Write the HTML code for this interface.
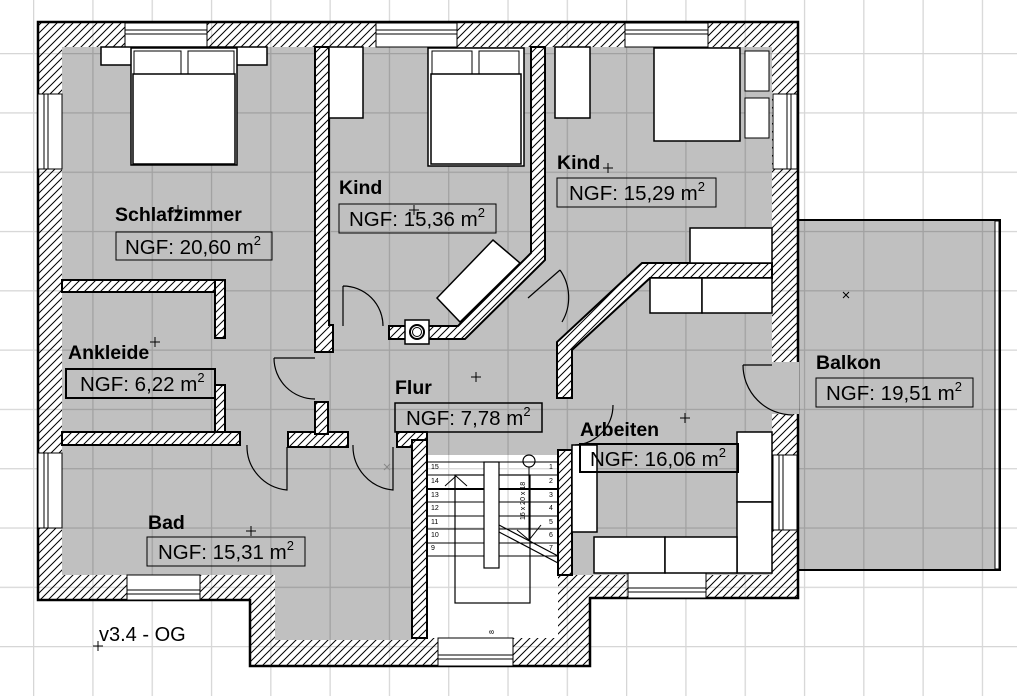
<!DOCTYPE html>
<html><head><meta charset="utf-8"><style>
html,body{margin:0;padding:0;background:#fff;}
svg{display:block;}
text{font-family:"Liberation Sans",Arial,sans-serif;fill:#000;}
.lb{font-weight:bold;font-size:19.5px;}
.ngf{font-size:20.5px;}
</style></head><body>
<svg width="1017" height="696" viewBox="0 0 1017 696" xmlns="http://www.w3.org/2000/svg">
<defs>
<pattern id="h" patternUnits="userSpaceOnUse" width="8" height="8">
<rect width="8" height="8" fill="#fff"/>
<path d="M-2,2 L2,-2 M0,8 L8,0 M6,10 L10,6" stroke="#000" stroke-width="1"/>
</pattern>
<pattern id="g" patternUnits="userSpaceOnUse" x="33" y="53" width="59.3" height="59.3">
<path d="M0,0 V59.3 M0,0 H59.3" stroke="#000" stroke-opacity="0.16" stroke-width="2.5" fill="none"/>
</pattern>
</defs>

<rect width="1017" height="696" fill="#fff"/>

<rect x="797" y="220" width="203" height="350" fill="#c0c0c0" stroke="#000" stroke-width="2"/>
<rect x="995" y="221" width="4" height="348" fill="#fff" stroke="#000" stroke-width="1"/>

<polygon points="38,22 798,22 798,598 590,598 590,666 250,666 250,600 38,600" fill="url(#h)" stroke="#000" stroke-width="2.5"/>

<rect x="62" y="47" width="710" height="528" fill="#c0c0c0"/>
<rect x="275" y="570" width="137" height="70" fill="#c0c0c0"/>
<rect x="771" y="362" width="28" height="52" fill="#c0c0c0"/>
<rect x="427" y="455" width="131" height="183" fill="#fff"/>

<rect width="1017" height="696" fill="url(#g)"/>

<g fill="#fff" stroke="#000" stroke-width="1">
<rect x="125" y="23" width="82" height="24"/><line x1="125" y1="30" x2="207" y2="30"/><line x1="125" y1="34" x2="207" y2="34"/>
<rect x="376" y="23" width="81" height="24"/><line x1="376" y1="30" x2="457" y2="30"/><line x1="376" y1="34" x2="457" y2="34"/>
<rect x="625" y="23" width="83" height="24"/><line x1="625" y1="30" x2="708" y2="30"/><line x1="625" y1="34" x2="708" y2="34"/>
<rect x="38" y="94" width="24" height="75"/><line x1="44" y1="94" x2="44" y2="169"/><line x1="48" y1="94" x2="48" y2="169"/>
<rect x="38" y="453" width="24" height="75"/><line x1="44" y1="453" x2="44" y2="528"/><line x1="48" y1="453" x2="48" y2="528"/>
<rect x="773" y="94" width="24" height="75"/><line x1="787" y1="94" x2="787" y2="169"/><line x1="791" y1="94" x2="791" y2="169"/>
<rect x="773" y="455" width="24" height="75"/><line x1="779" y1="455" x2="779" y2="530"/><line x1="783" y1="455" x2="783" y2="530"/>
<rect x="127" y="575" width="73" height="25"/><line x1="127" y1="590" x2="200" y2="590"/><line x1="127" y1="594" x2="200" y2="594"/>
<rect x="438" y="638" width="75" height="28"/><line x1="438" y1="655" x2="513" y2="655"/><line x1="438" y1="659" x2="513" y2="659"/>
<rect x="628" y="573" width="78" height="25"/><line x1="628" y1="588" x2="706" y2="588"/><line x1="628" y1="592" x2="706" y2="592"/>
</g>

<g fill="url(#h)" stroke="#000" stroke-width="2">
<polygon points="315,47 329,47 329,325 333,325 333,352 315,352"/>
<polygon points="531,47 545,47 545,260 465,339 389,339 389,326 458,326 531,253"/>
<polygon points="642,263 772,263 772,278 650,278 572,350 572,398 557,398 557,342"/>
<rect x="62" y="280" width="163" height="12"/>
<rect x="215" y="280" width="10" height="58"/>
<rect x="215" y="385" width="10" height="60"/>
<rect x="62" y="432" width="178" height="13"/>
<rect x="288" y="432" width="60" height="15"/>
<rect x="315" y="402" width="13" height="32"/>
<rect x="397" y="432" width="30" height="15"/>
<rect x="412" y="440" width="15" height="198"/>
<rect x="558" y="450" width="14" height="125"/>
</g>
<rect x="405" y="320" width="24" height="24" fill="#fff" stroke="#000" stroke-width="1.5"/>
<circle cx="417" cy="332" r="7" fill="none" stroke="#000" stroke-width="2"/>
<circle cx="417" cy="332" r="4.5" fill="none" stroke="#000" stroke-width="1"/>

<g fill="#fff" stroke="#000" stroke-width="1.5">
<rect x="101" y="47" width="166" height="18"/>
<rect x="131" y="48" width="106" height="117"/>
<rect x="134" y="51" width="47" height="23" stroke-width="1"/><rect x="188" y="51" width="46" height="23" stroke-width="1"/>
<rect x="133" y="74" width="102" height="90"/>
<rect x="329" y="47" width="34" height="71"/>
<rect x="428" y="48" width="96" height="118"/>
<rect x="432" y="51" width="40" height="25" stroke-width="1"/><rect x="479" y="51" width="40" height="25" stroke-width="1"/>
<rect x="431" y="74" width="90" height="90"/>
<rect x="555" y="47" width="35" height="71"/>
<rect x="654" y="48" width="86" height="93"/>
<rect x="745" y="51" width="24" height="40" stroke-width="1"/><rect x="745" y="98" width="24" height="40" stroke-width="1"/>
<rect x="690" y="228" width="82" height="35"/>
<rect x="650" y="278" width="52" height="35"/><rect x="702" y="278" width="70" height="35"/>
<rect x="737" y="432" width="35" height="70"/><rect x="737" y="502" width="35" height="71"/>
<rect x="594" y="537" width="71" height="36"/><rect x="665" y="537" width="72" height="36"/>
<rect x="572" y="445" width="25" height="87"/>
<polygon points="437,298 493,240 520,263 460,322"/>
</g>

<g fill="none" stroke="#000" stroke-width="1.2">
<path d="M343,286 L343,326 M343,286 A40,40 0 0 1 383,326"/>
<path d="M274,358 L315,358 M274,358 A41,41 0 0 0 315,399"/>
<path d="M247,445 A44,44 0 0 0 287,490 L287,447"/>
<path d="M353,445 A44,44 0 0 0 393,490 L393,447"/>
<path d="M560,270 A48,48 0 0 1 562,322 M560,270 L528,298"/>
<path d="M743,365 L772,365 M743,365 A50,50 0 0 0 793,415"/>
<path d="M613,405 A40,40 0 0 1 575,445"/>
</g>

<g stroke="#000" fill="none">
<line x1="427" y1="462" x2="558" y2="462" stroke-width="1"/>
<line x1="427" y1="475" x2="558" y2="475" stroke-width="1"/>
<line x1="427" y1="489" x2="558" y2="489" stroke-width="2"/>
<line x1="427" y1="502" x2="558" y2="502" stroke-width="1"/>
<line x1="427" y1="516" x2="558" y2="516" stroke-width="1"/>
<line x1="427" y1="529" x2="558" y2="529" stroke-width="1"/>
<line x1="427" y1="543" x2="558" y2="543" stroke-width="1"/>
<line x1="427" y1="556" x2="558" y2="556" stroke-width="1"/>
<rect x="455" y="475" width="75" height="128" stroke-width="1.2"/>
<rect x="484" y="462" width="15" height="106" fill="#fff" stroke-width="1.2"/>
<path d="M499,525 L558,556 M499,532 L558,563" stroke-width="1.2"/>
<path d="M445,486 L456,476 L467,486 M517,530 L529,540 L541,525" stroke-width="1"/>
<circle cx="529" cy="461" r="6" stroke-width="1.2"/>
<line x1="529" y1="467" x2="529" y2="540" stroke-width="1"/>
</g>
<g font-size="7" font-family="Liberation Sans,sans-serif">
<text x="431" y="469">15</text><text x="431" y="483">14</text><text x="431" y="497">13</text><text x="431" y="510">12</text><text x="431" y="524">11</text><text x="431" y="537">10</text><text x="431" y="550">9</text>
<text x="549" y="469">1</text><text x="549" y="483">2</text><text x="549" y="497">3</text><text x="549" y="510">4</text><text x="549" y="524">5</text><text x="549" y="537">6</text><text x="549" y="550">7</text>
<text x="0" y="0" transform="translate(525,520) rotate(-90)">16 x 20 x 18</text>
<text x="0" y="0" transform="translate(494,634) rotate(-90)">8</text>
</g>

<g stroke="#000" stroke-width="1" fill="none">
<path d="M173,210 h10 M178,205 v10"/>
<path d="M150,342 h10 M155,337 v10"/>
<path d="M409,210 h10 M414,205 v10"/>
<path d="M603,168 h10 M608,163 v10"/>
<path d="M471,377 h10 M476,372 v10"/>
<path d="M680,418 h10 M685,413 v10"/>
<path d="M246,531 h10 M251,526 v10"/>
<path d="M843,292 l6,6 M849,292 l-6,6"/>
<path d="M93,646 h10 M98,641 v10"/>
<path d="M384,464 l6,6 M390,464 l-6,6" stroke="#888"/>
</g>

<text class="lb" x="115" y="221">Schlafzimmer</text>
<rect x="116" y="232" width="156" height="28" fill="none" stroke="#000" stroke-width="1"/>
<text class="ngf" x="125" y="254">NGF: 20,60 m<tspan font-size="13" dy="-9">2</tspan></text>

<text class="lb" x="339" y="194">Kind</text>
<rect x="339" y="204" width="157" height="29" fill="none" stroke="#000" stroke-width="1"/>
<text class="ngf" x="349" y="226">NGF: 15,36 m<tspan font-size="13" dy="-9">2</tspan></text>

<text class="lb" x="557" y="169">Kind</text>
<rect x="557" y="178" width="159" height="29" fill="none" stroke="#000" stroke-width="1"/>
<text class="ngf" x="569" y="200">NGF: 15,29 m<tspan font-size="13" dy="-9">2</tspan></text>

<text class="lb" x="68" y="359">Ankleide</text>
<rect x="66" y="369" width="149" height="29" fill="none" stroke="#000" stroke-width="2"/>
<text class="ngf" x="80" y="391">NGF: 6,22 m<tspan font-size="13" dy="-9">2</tspan></text>

<text class="lb" x="395" y="394">Flur</text>
<rect x="395" y="403" width="147" height="29" fill="none" stroke="#000" stroke-width="1.5"/>
<text class="ngf" x="406" y="425">NGF: 7,78 m<tspan font-size="13" dy="-9">2</tspan></text>

<text class="lb" x="580" y="436">Arbeiten</text>
<rect x="580" y="444" width="158" height="28" fill="none" stroke="#000" stroke-width="2"/>
<text class="ngf" x="590" y="466">NGF: 16,06 m<tspan font-size="13" dy="-9">2</tspan></text>

<text class="lb" x="816" y="369">Balkon</text>
<rect x="816" y="378" width="157" height="29" fill="none" stroke="#000" stroke-width="1"/>
<text class="ngf" x="826" y="400">NGF: 19,51 m<tspan font-size="13" dy="-9">2</tspan></text>

<text class="lb" x="148" y="529">Bad</text>
<rect x="147" y="537" width="158" height="29" fill="none" stroke="#000" stroke-width="1"/>
<text class="ngf" x="158" y="559">NGF: 15,31 m<tspan font-size="13" dy="-9">2</tspan></text>

<text x="99" y="641" font-size="20">v3.4 - OG</text>
</svg>
</body></html>
